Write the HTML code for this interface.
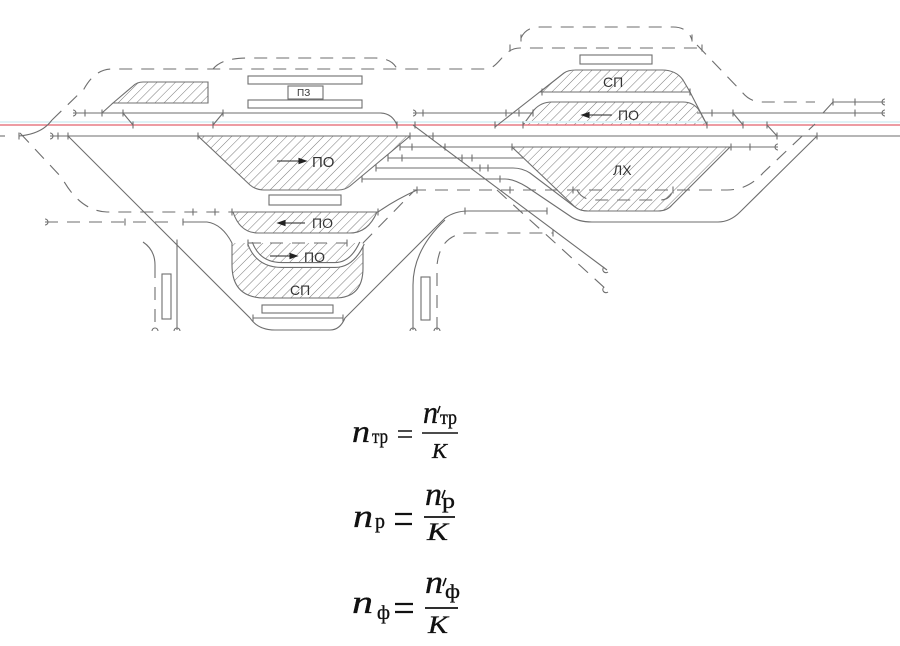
<!DOCTYPE html>
<html><head><meta charset="utf-8"><style>
html,body{margin:0;padding:0;background:#fff;}
svg{display:block;}
</style></head><body>
<svg width="900" height="646" viewBox="0 0 900 646" xmlns="http://www.w3.org/2000/svg">
<defs>
<pattern id="h" patternUnits="userSpaceOnUse" width="6.5" height="10" patternTransform="rotate(45)">
<line x1="0" y1="0" x2="0" y2="10" stroke="#7a7a7a" stroke-width="1"/>
</pattern>
</defs>
<rect width="900" height="646" fill="#fff"/>

<!-- hatched regions -->
<g fill="url(#h)" stroke="#707070" stroke-width="1.1">
<path d="M113,103 L133,86 Q137,82 143,82 L208,82 L208,103 Z"/>
<path d="M198,136 L410,136 L350,186 Q345,190 338,190 L264,190 Q256,190 250,185 Z"/>
<path d="M540,92 L564,73 Q568,70 576,70 L662,70 Q676,70 683,80 L690,92 Z"/>
<path d="M523,125 L534,110 Q541,102 552,102 L683,102 Q693,102 699,110 L707,125 Z"/>
<path d="M512,147 L730,147 L672,205 Q667,211 658,211 L588,211 Q580,211 575,207 Z"/>
<path d="M233,212 L377,212 Q368,233 350,233 L258,233 Q240,233 233,212 Z"/>
<path d="M232,243 L232,265 Q232,298 265,298 L335,298 Q363,298 363,268 L363,243 Z" stroke="none"/>
</g>

<!-- red line -->
<line x1="0" y1="122" x2="900" y2="122" stroke="#dff2f6" stroke-width="2"/>
<line x1="0" y1="125" x2="900" y2="125" stroke="#e2606c" stroke-width="1.3"/>

<g fill="none" stroke="#6e6e6e" stroke-width="1.1">
<path d="M0,136 L5,136"/>
<path d="M19,136 Q42,134 52,120"/>
<path d="M50,136 L900,136"/>
<path d="M73,113 L380,113 Q392,113 397,125"/>
<path d="M102,113 L113,103"/>
<path d="M123,113 L133,125"/>
<path d="M213,125 L223,113"/>
<path d="M413,113 L533,113"/>
<path d="M697,113 L885,113"/>
<path d="M733,113 L743,125"/>
<path d="M767,125 L777,136"/>
<path d="M823,113 L833,102 L885,102"/>
<path d="M400,147 L778,147"/>
<path d="M388,158 L523,158"/>
<path d="M376,168 L513,168 Q522,168 530,173 L575,207 Q580,211 588,211"/>
<path d="M362,179 L505,179 Q514,179 527,187 L570,216 Q578,222 592,222 L718,222 Q730,222 740,212 L817,136"/>
<path d="M540,92 L690,92"/>
<path d="M495,127 L564,73"/>
<path d="M690,92 L707,125"/>
<path d="M378,212 Q395,200 417,190"/>
<path d="M183,222 L207,222 Q222,224 232,243"/>
<path d="M232,243 L232,265 Q232,298 265,298 L335,298 Q363,298 363,268 L363,243"/>
<path d="M68,136 L250,318 Q258,330 275,330 L330,330 Q340,330 345,318 L445,218 Q455,211 468,211 L547,211"/>
<path d="M253,318 L343,318"/>
<path d="M413,330 L413,285 Q413,250 445,220"/>
<path d="M177,243 L177,330"/>
<path d="M143,242 Q155,250 155,265"/>
<path d="M413,125 L607,270"/>
<path d="M250,243 Q258,265 282,265 L335,265 Q352,265 362,243" stroke-width="6"/>
<path d="M250,243 Q258,265 282,265 L335,265 Q352,265 362,243" stroke="#fff" stroke-width="3.8"/>
</g>

<g fill="none" stroke="#6e6e6e" stroke-width="1.1" stroke-dasharray="13 9">
<path d="M52,120 L84,89 Q95,69 112,69 L485,69 C500,69 502,48 520,48 L702,48"/>
<path d="M213,69 Q222,58 247,58 L375,58 Q392,58 397,69"/>
<path d="M521,38 Q526,27 540,27 L673,27 Q688,27 692,40"/>
<path d="M697,45 L742,92 Q750,102 762,102 L815,102"/>
<path d="M413,190 L727,190 Q748,190 763,173 L815,124"/>
<path d="M363,243 L413,192"/>
<path d="M20,133 L62,178 Q80,211 107,212 L378,212"/>
<path d="M45,222 L168,222"/>
<path d="M248,243 L347,243"/>
<path d="M437,330 L437,265 Q440,236 465,233 L553,233"/>
<path d="M155,265 L155,330"/>
<path d="M497,190 L607,290"/>
<path d="M577,190 Q582,200 595,200 L660,200 Q670,200 673,190"/>
</g>

<g stroke="#6e6e6e" stroke-width="1.1" fill="none">
<path d="M85,109.5v7 M102,109.5v7 M123,109.5v7 M223,109.5v7
M133,121.5v7 M213,121.5v7 M397,121.5v7
M19,132.5v7 M58,132.5v7 M68,132.5v7 M198,132.5v7 M410,132.5v7 M433,132.5v7 M817,132.5v7
M423,109.5v7 M506,109.5v7 M519,109.5v7 M533,109.5v7 M712,109.5v7 M733,109.5v7 M855,109.5v7
M415,121.5v7 M495,121.5v7 M523,121.5v7 M707,121.5v7 M743,121.5v7 M767,121.5v7
M777,132.5v7
M400,143.5v7 M412,143.5v7 M445,143.5v7 M512,143.5v7 M731,143.5v7 M750,143.5v7
M388,154.5v7 M402,154.5v7 M462,154.5v7 M472,154.5v7
M376,164.5v7 M480,164.5v7 M488,164.5v7
M362,175.5v7 M500,175.5v7
M833,98.5v7 M855,98.5v7
M542,88.5v7 M690,88.5v7
M510,44.5v7 M702,44.5v7
M521,34.5v7 M692,34.5v7
M193,208.5v7 M215,208.5v7 M232,208.5v7 M378,208.5v7
M125,218.5v7 M183,218.5v7
M248,239.5v7 M347,239.5v7
M253,314.5v7 M343,314.5v7
M417,186.5v7 M510,186.5v7 M573,186.5v7 M673,186.5v7
M465,207.5v7 M547,207.5v7 M553,229.5v7
M177,239.5v7"/>
<path d="M73,110 A3,3 0 0 1 73,116 M50,133 A3,3 0 0 1 50,139 M45,219 A3,3 0 0 1 45,225 M413,110 A3,3 0 0 1 413,116"/>
<path d="M885,99 A3,3 0 0 0 885,105 M885,110 A3,3 0 0 0 885,116 M778,144 A3,3 0 0 0 778,150"/>
<path d="M604,267 A3,3 0 0 0 608,272 M604,287 A3,3 0 0 0 608,292"/>
<path d="M152,331 A3,3 0 0 1 158,331 M174,331 A3,3 0 0 1 180,331 M410,331 A3,3 0 0 1 416,331 M434,331 A3,3 0 0 1 440,331"/>
</g>

<g fill="#fff" stroke="#6e6e6e" stroke-width="1.1">
<rect x="248" y="76" width="114" height="8"/>
<rect x="248" y="100" width="114" height="8"/>
<rect x="288" y="86" width="35" height="13"/>
<rect x="580" y="55" width="72" height="9"/>
<rect x="269" y="195" width="72" height="10"/>
<rect x="262" y="305" width="71" height="8"/>
<rect x="162" y="274" width="9" height="45"/>
<rect x="421" y="277" width="9" height="43"/>
</g>

<g stroke="#222" stroke-width="1.1" fill="#222">
<line x1="277" y1="161" x2="300" y2="161"/><path d="M306,161 L299,158.5 L299,163.5 Z"/>
<line x1="612" y1="115" x2="588" y2="115"/><path d="M582,115 L589,112.5 L589,117.5 Z"/>
<line x1="305" y1="223" x2="284" y2="223"/><path d="M278,223 L285,220.5 L285,225.5 Z"/>
<line x1="270" y1="256" x2="291" y2="256"/><path d="M297,256 L290,253.5 L290,258.5 Z"/>
</g>

<g font-family="'Liberation Sans', sans-serif" fill="#333">
<text x="312" y="167" font-size="15">ПО</text>
<text x="618" y="120" font-size="14">ПО</text>
<text x="603" y="87" font-size="14">СП</text>
<text x="613" y="175" font-size="14">ЛХ</text>
<text x="297" y="96" font-size="10">ПЗ</text>
<text x="312" y="228" font-size="14">ПО</text>
<text x="304" y="262" font-size="14">ПО</text>
<text x="290" y="295" font-size="14">СП</text>
</g>

<g fill="#111" stroke="#111" stroke-width="0.35" font-family="'Liberation Serif', serif">
<text x="352" y="442" font-size="32" font-style="italic" textLength="18" lengthAdjust="spacingAndGlyphs">n</text>
<text x="372" y="443" font-size="21" textLength="16" lengthAdjust="spacingAndGlyphs">тр</text>
<text x="423" y="423" font-size="32" font-style="italic" textLength="15" lengthAdjust="spacingAndGlyphs">n</text>
<text x="440" y="424" font-size="20" textLength="17" lengthAdjust="spacingAndGlyphs">тр</text>
<text x="432" y="458" font-size="21" font-style="italic" textLength="15" lengthAdjust="spacingAndGlyphs">K</text>
<text x="353" y="527" font-size="33" font-style="italic" textLength="20" lengthAdjust="spacingAndGlyphs">n</text>
<text x="375" y="528" font-size="22" textLength="10" lengthAdjust="spacingAndGlyphs">р</text>
<text x="425" y="505" font-size="33" font-style="italic" textLength="17" lengthAdjust="spacingAndGlyphs">n</text>
<text x="442" y="508" font-size="22" textLength="13" lengthAdjust="spacingAndGlyphs">р</text>
<text x="427" y="540" font-size="25" font-style="italic" textLength="21" lengthAdjust="spacingAndGlyphs">K</text>
<text x="352" y="613" font-size="33" font-style="italic" textLength="21" lengthAdjust="spacingAndGlyphs">n</text>
<text x="377" y="619" font-size="20" textLength="13" lengthAdjust="spacingAndGlyphs">ф</text>
<text x="425" y="593" font-size="33" font-style="italic" textLength="18" lengthAdjust="spacingAndGlyphs">n</text>
<text x="445" y="598" font-size="20" textLength="15" lengthAdjust="spacingAndGlyphs">ф</text>
<text x="428" y="633" font-size="25" font-style="italic" textLength="20" lengthAdjust="spacingAndGlyphs">K</text>
</g>
<g stroke="#111" fill="none">
<path d="M398,431 H412 M398,437 H412" stroke-width="1.6"/>
<line x1="422" y1="433" x2="458" y2="433" stroke-width="1.4"/>
<path d="M440,406 L437.5,413" stroke-width="1.5"/>
<path d="M395,514 H412 M395,524 H412" stroke-width="2.2"/>
<line x1="424" y1="517" x2="455" y2="517" stroke-width="1.8"/>
<path d="M445,490 L442,498" stroke-width="1.7"/>
<path d="M395,604 H413 M395,612 H413" stroke-width="2.2"/>
<line x1="425" y1="608" x2="458" y2="608" stroke-width="1.8"/>
<path d="M446,578 L443,586" stroke-width="1.7"/>
</g>
</svg>
</body></html>
